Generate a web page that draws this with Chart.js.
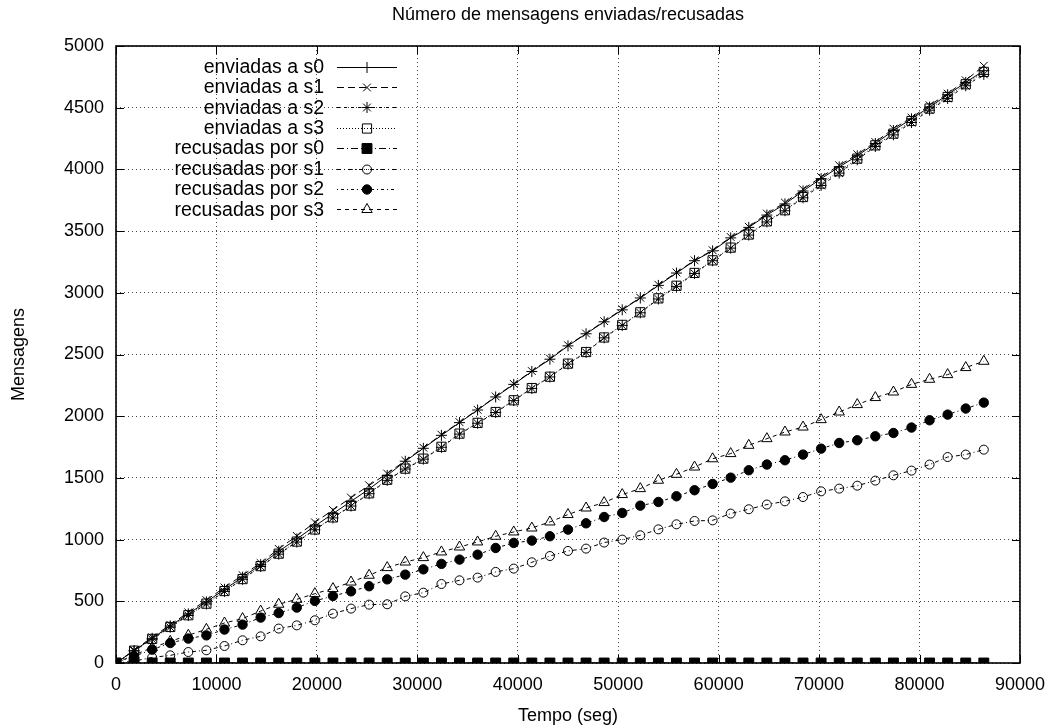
<!DOCTYPE html>
<html>
<head>
<meta charset="utf-8">
<title>Número de mensagens enviadas/recusadas</title>
<script src="https://cdn.jsdelivr.net/npm/chart.js@4.4.1/dist/chart.umd.min.js"></script>
<style>
  html, body { margin: 0; padding: 0; background: #fff; }
  #wrap { width: 1056px; height: 728px; }
</style>
</head>
<body>
<div id="wrap"><canvas id="chart" width="1056" height="728"></canvas></div>
<script>
// Sample times (seconds), one every half hour over a day.
const times = [
  0, 1800, 3600, 5400, 7200, 9000, 10800, 12600, 14400, 16200,
  18000, 19800, 21600, 23400, 25200, 27000, 28800, 30600, 32400, 34200,
  36000, 37800, 39600, 41400, 43200, 45000, 46800, 48600, 50400, 52200,
  54000, 55800, 57600, 59400, 61200, 63000, 64800, 66600, 68400, 70200,
  72000, 73800, 75600, 77400, 79200, 81000, 82800, 84600, 86400,
];

const seriesLabels = [
  'enviadas a s0', 'enviadas a s1', 'enviadas a s2', 'enviadas a s3',
  'recusadas por s0', 'recusadas por s1', 'recusadas por s2', 'recusadas por s3',
];

const sentS0 = [
  0, 100, 200, 300, 398, 495, 597, 695, 797, 905,
  1005, 1110, 1210, 1310, 1410, 1520, 1635, 1740, 1845, 1948,
  2050, 2156, 2258, 2362, 2462, 2570, 2668, 2765, 2862, 2958,
  3060, 3160, 3260, 3340, 3445, 3530, 3630, 3720, 3825, 3925,
  4020, 4110, 4210, 4315, 4410, 4505, 4605, 4705, 4800,
];
const sentS1 = [
  0, 105, 208, 310, 410, 510, 612, 712, 810, 925,
  1030, 1140, 1240, 1340, 1440, 1535, 1640, 1745, 1850, 1952,
  2052, 2160, 2262, 2366, 2467, 2575, 2670, 2770, 2866, 2960,
  3065, 3165, 3263, 3345, 3452, 3535, 3642, 3731, 3839, 3938,
  4033, 4122, 4222, 4330, 4420, 4520, 4614, 4722, 4840,
];
const sentS2 = [
  0, 98, 192, 290, 385, 478, 580, 678, 782, 882,
  980, 1080, 1176, 1272, 1372, 1480, 1572, 1652, 1748, 1855,
  1943, 2030, 2126, 2225, 2318, 2422, 2517, 2635, 2736, 2838,
  2950, 3052, 3157, 3260, 3362, 3468, 3574, 3665, 3770, 3870,
  3970, 4078, 4185, 4280, 4380, 4480, 4575, 4678, 4770,
];
const sentS3 = [
  0, 100, 195, 292, 387, 481, 583, 680, 785, 886,
  984, 1082, 1180, 1275, 1375, 1485, 1575, 1656, 1752, 1859,
  1946, 2034, 2129, 2228, 2320, 2426, 2520, 2638, 2740, 2842,
  2955, 3057, 3161, 3263, 3366, 3472, 3579, 3669, 3776, 3885,
  3985, 4087, 4195, 4290, 4392, 4493, 4587, 4690, 4790,
];
const refusedS0 = [
  0, 0, 0, 0, 0, 0, 0, 0, 0, 0,
  0, 0, 0, 0, 0, 0, 0, 0, 0, 0,
  0, 0, 0, 0, 0, 0, 0, 0, 0, 0,
  0, 0, 0, 0, 0, 0, 0, 0, 0, 0,
  0, 0, 0, 0, 0, 0, 0, 0, 0,
];
const refusedS1 = [
  0, 15, 45, 62, 89, 103, 138, 184, 216, 279,
  305, 346, 400, 441, 473, 476, 540, 570, 640, 670,
  692, 738, 765, 816, 867, 908, 927, 976, 1000, 1035,
  1083, 1124, 1151, 1156, 1211, 1246, 1284, 1310, 1345, 1391,
  1413, 1437, 1478, 1521, 1559, 1608, 1669, 1689, 1729,
];
const refusedS2 = [
  0, 55, 108, 162, 198, 224, 271, 311, 368, 405,
  449, 503, 543, 581, 622, 678, 716, 759, 803, 838,
  878, 932, 973, 992, 1027, 1081, 1132, 1183, 1216, 1275,
  1305, 1351, 1400, 1451, 1502, 1562, 1608, 1643, 1689, 1737,
  1783, 1805, 1837, 1864, 1908, 1967, 2013, 2062, 2110,
];
const refusedS3 = [
  0, 65, 125, 175, 225, 273, 324, 360, 421, 476,
  516, 562, 603, 656, 711, 773, 818, 854, 900, 940,
  981, 1027, 1062, 1094, 1143, 1203, 1256, 1300, 1365, 1413,
  1481, 1529, 1588, 1655, 1697, 1764, 1818, 1872, 1912, 1972,
  2034, 2094, 2151, 2196, 2258, 2299, 2337, 2394, 2445,
];

const chartTitle = 'Número de mensagens enviadas/recusadas';
const xTitle = 'Tempo (seg)';
const yTitle = 'Mensagens';

const FONT = '"Liberation Sans", Arial, Helvetica, sans-serif';
Chart.defaults.font.family = FONT;
Chart.defaults.font.size = 18;
Chart.defaults.color = '#000';

// gnuplot-like look: line dash + point type per series
const styles = [
  { dash: [], point: 'cross', radius: 5.5, fill: false },
  { dash: [7, 4], point: 'crossRot', radius: 5.5, fill: false },
  { dash: [3, 4], point: 'star', radius: 5.5, fill: false },
  { dash: [1, 2], point: 'rect', radius: 6.5, fill: false },
  { dash: [7, 3, 1, 3], point: 'rect', radius: 7, fill: true },
  { dash: [4, 3, 1, 3], point: 'circle', radius: 4.5, fill: false },
  { dash: [1, 3, 3, 3], point: 'circle', radius: 4.7, fill: true },
  { dash: [4, 4], point: 'triangle', radius: 6, fill: false },
];

const allSeries = [sentS0, sentS1, sentS2, sentS3, refusedS0, refusedS1, refusedS2, refusedS3];

const datasets = allSeries.map((values, i) => ({
  label: seriesLabels[i],
  data: values.map((v, k) => ({ x: times[k], y: v })),
  borderColor: '#000',
  borderWidth: 1,
  borderDash: styles[i].dash,
  pointStyle: styles[i].point,
  pointRadius: styles[i].radius,
  pointBorderWidth: 1,
  pointBorderColor: '#000',
  pointBackgroundColor: styles[i].fill ? '#000' : 'rgba(0,0,0,0)',
  tension: 0,
  fill: false,
}));

const gnuplotFrame = {
  id: 'gnuplotFrame',
  afterDatasetsDraw(chart) {
    const { ctx, chartArea: a, scales } = chart;
    ctx.save();
    ctx.strokeStyle = '#000';
    ctx.lineWidth = 1;
    ctx.setLineDash([]);
    const tick = 8;
    ctx.beginPath();
    scales.y.ticks.forEach((t) => {
      const py = Math.round(scales.y.getPixelForValue(t.value)) + 0.5;
      ctx.moveTo(a.left, py); ctx.lineTo(a.left + tick, py);
      ctx.moveTo(a.right, py); ctx.lineTo(a.right - tick, py);
    });
    scales.x.ticks.forEach((t) => {
      const px = Math.round(scales.x.getPixelForValue(t.value)) + 0.5;
      ctx.moveTo(px, a.bottom); ctx.lineTo(px, a.bottom - tick);
      ctx.moveTo(px, a.top); ctx.lineTo(px, a.top + tick);
    });
    ctx.stroke();
    ctx.lineWidth = 1.6;
    ctx.strokeRect(a.left, a.top, a.right - a.left, a.bottom - a.top);
    ctx.restore();
  },
  afterDraw(chart) {
    const { ctx, chartArea: a } = chart;
    ctx.save();
    ctx.fillStyle = '#000';
    ctx.font = '18px ' + FONT;
    ctx.textBaseline = 'middle';
    ctx.textAlign = 'center';
    const cx = (a.left + a.right) / 2;
    ctx.fillText(chartTitle, cx, 15);
    ctx.fillText(xTitle, cx, 716);
    ctx.save();
    ctx.translate(19, (a.top + a.bottom) / 2);
    ctx.rotate(-Math.PI / 2);
    ctx.fillText(yTitle, 0, 0);
    ctx.restore();

    // key, top left inside the plot
    ctx.font = '19.5px ' + FONT;
    const textRight = 324;
    const x0 = 337, x1 = 397, xm = 367;
    chart.data.datasets.forEach((ds, i) => {
      const y = 66.5 + i * 20.4;
      ctx.textAlign = 'right';
      ctx.fillText(ds.label, textRight, y + 1);
      ctx.beginPath();
      ctx.setLineDash(ds.borderDash);
      ctx.lineWidth = 1;
      ctx.strokeStyle = '#000';
      ctx.moveTo(x0, Math.round(y) + 0.5);
      ctx.lineTo(x1, Math.round(y) + 0.5);
      ctx.stroke();
      ctx.setLineDash([]);
      ctx.fillStyle = ds.pointBackgroundColor;
      Chart.helpers.drawPoint(ctx, {
        pointStyle: ds.pointStyle,
        radius: ds.pointRadius,
        rotation: 0,
        borderWidth: 1,
      }, xm, Math.round(y) + 0.5);
      ctx.fillStyle = '#000';
    });
    ctx.restore();
  },
};

new Chart(document.getElementById('chart'), {
  type: 'line',
  data: { datasets },
  options: {
    responsive: false,
    animation: false,
    devicePixelRatio: 1,
    layout: { padding: { top: 46, right: 35, left: 0, bottom: 0 } },
    plugins: {
      legend: { display: false },
      title: { display: false },
      tooltip: { enabled: false },
    },
    scales: {
      x: {
        type: 'linear',
        min: 0,
        max: 90000,
        afterFit: (scale) => { scale.height = 65; },
        ticks: { stepSize: 10000, padding: 11, maxRotation: 0, callback: (v) => String(v) },
        grid: { color: 'rgba(0,0,0,0.75)', lineWidth: 1, drawTicks: false },
        border: { display: false, dash: [1, 3] },
      },
      y: {
        type: 'linear',
        min: 0,
        max: 5000,
        afterFit: (scale) => { scale.width = 116; },
        ticks: { stepSize: 500, padding: 12, callback: (v) => String(v) },
        grid: { color: 'rgba(0,0,0,0.75)', lineWidth: 1, drawTicks: false },
        border: { display: false, dash: [1, 3] },
      },
    },
  },
  plugins: [gnuplotFrame],
});
</script>
</body>
</html>
